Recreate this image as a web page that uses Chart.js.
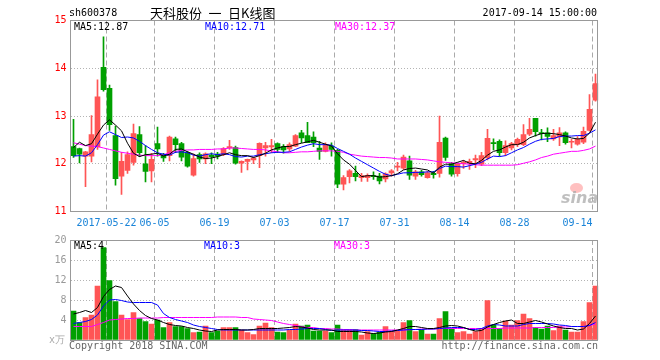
<!DOCTYPE html>
<html><head><meta charset="utf-8">
<script src="https://cdn.jsdelivr.net/npm/chart.js@4.4.0/dist/chart.umd.min.js"></script>
<style>
html,body{margin:0;padding:0;background:#fff;}
#wrap{position:relative;width:660px;height:360px;overflow:hidden;font-family:'DejaVu Sans Mono',monospace;font-size:10px;}
canvas{position:absolute;left:0;top:0;}
.t{position:absolute;white-space:pre;line-height:12px;}
</style></head>
<body><div id="wrap">
<canvas id="c1" width="660" height="360"></canvas>
<canvas id="c2" width="660" height="360"></canvas>
<div class="t" style="left:69px;top:7px;color:#000">sh600378</div>
<div class="t" style="left:150px;top:4px;font-family:'Noto Sans CJK SC';font-size:13px;line-height:18px;color:#000">天科股份&#x2002;一&#x2002;日K线图</div>
<div class="t" style="right:63px;top:7px;color:#000">2017-09-14 15:00:00</div>
<div class="t" style="left:74px;top:21px;color:#000">MA5:12.87</div>
<div class="t" style="left:205px;top:21px;color:#0000ff">MA10:12.71</div>
<div class="t" style="left:335px;top:21px;color:#ff00ff">MA30:12.37</div>
<div class="t" style="left:74px;top:240px;color:#000">MA5:4</div>
<div class="t" style="left:204px;top:240px;color:#0000ff">MA10:3</div>
<div class="t" style="left:334px;top:240px;color:#ff00ff">MA30:3</div>
<div class="t" style="left:49px;top:334px;color:#aaa">x万</div>
<div class="t" style="left:69px;top:340px;color:#666">Copyright 2018 SINA.COM</div>
<div class="t" style="right:62px;top:340px;color:#666">http://finance.sina.com.cn</div>
<div style="position:absolute;left:570px;top:183px;width:13px;height:10px;border-radius:50%;background:rgba(255,140,140,0.55)"></div>
<div class="t" style="left:561px;top:189px;font-family:'DejaVu Sans';font-style:italic;font-weight:bold;font-size:16px;line-height:18px;color:rgba(170,170,170,0.75)">sina</div>
</div>
<script>
const dates = ['2017-05-12','2017-05-15','2017-05-16','2017-05-17','2017-05-18','2017-05-19','2017-05-22','2017-05-23','2017-05-24','2017-05-25','2017-05-26','2017-05-31','2017-06-01','2017-06-02','2017-06-05','2017-06-06','2017-06-07','2017-06-08','2017-06-09','2017-06-12','2017-06-13','2017-06-14','2017-06-15','2017-06-16','2017-06-19','2017-06-20','2017-06-21','2017-06-22','2017-06-23','2017-06-26','2017-06-27','2017-06-28','2017-06-29','2017-06-30','2017-07-03','2017-07-04','2017-07-05','2017-07-06','2017-07-07','2017-07-10','2017-07-11','2017-07-12','2017-07-13','2017-07-14','2017-07-17','2017-07-18','2017-07-19','2017-07-20','2017-07-21','2017-07-24','2017-07-25','2017-07-26','2017-07-27','2017-07-28','2017-07-31','2017-08-01','2017-08-02','2017-08-03','2017-08-04','2017-08-07','2017-08-08','2017-08-09','2017-08-10','2017-08-11','2017-08-14','2017-08-15','2017-08-16','2017-08-17','2017-08-18','2017-08-21','2017-08-22','2017-08-23','2017-08-24','2017-08-25','2017-08-28','2017-08-29','2017-08-30','2017-08-31','2017-09-01','2017-09-04','2017-09-05','2017-09-06','2017-09-07','2017-09-08','2017-09-11','2017-09-12','2017-09-13','2017-09-14'];

const openP  = [12.36,12.32,12.16,12.16,12.35,14.02,13.58,12.59,11.74,11.86,12.03,12.61,12.00,11.85,12.42,12.19,12.17,12.52,12.42,12.23,11.76,12.19,12.10,12.18,12.20,12.19,12.33,12.34,12.01,12.05,12.08,12.17,12.33,12.35,12.42,12.36,12.31,12.37,12.65,12.59,12.56,12.33,12.26,12.37,12.28,11.57,11.73,11.80,11.71,11.71,11.75,11.74,11.68,11.81,11.93,11.91,12.06,11.74,11.83,11.71,11.80,11.80,12.54,12.00,11.79,12.00,12.02,12.08,11.99,12.12,12.44,12.47,12.23,12.33,12.40,12.40,12.62,12.95,12.65,12.65,12.52,12.56,12.65,12.45,12.41,12.45,12.70,13.33];
const highP  = [12.93,12.33,12.26,13.01,13.76,14.66,13.65,12.79,12.24,12.25,12.83,12.78,12.38,12.22,12.77,12.22,12.58,12.56,12.45,12.26,12.20,12.23,12.23,12.23,12.24,12.34,12.49,12.37,12.06,12.10,12.14,12.44,12.45,12.51,12.44,12.40,12.44,12.61,12.70,12.87,12.67,12.47,12.44,12.44,12.30,11.75,11.88,11.95,11.80,11.79,11.83,11.80,11.81,11.88,12.03,12.18,12.16,11.86,11.86,11.84,11.84,13.00,12.56,12.03,12.02,12.07,12.10,12.18,12.24,12.72,12.52,12.50,12.48,12.45,12.54,12.82,12.95,12.95,12.72,12.75,12.72,12.76,12.67,12.51,12.57,12.77,13.45,13.88];
const lowP   = [12.13,12.02,11.52,12.04,12.30,13.52,12.70,11.55,11.36,11.80,11.97,12.15,11.62,11.62,12.16,12.05,12.06,12.23,12.06,11.93,11.74,12.03,12.00,12.00,12.10,12.17,12.30,11.99,11.82,11.87,12.00,11.92,12.16,12.23,12.23,12.22,12.26,12.36,12.44,12.44,12.36,12.09,12.25,12.16,11.50,11.45,11.60,11.64,11.63,11.63,11.67,11.58,11.62,11.74,11.85,11.88,11.67,11.67,11.74,11.70,11.70,11.72,12.07,11.74,11.74,11.90,11.88,11.92,11.96,12.08,12.29,12.16,12.17,12.29,12.36,12.38,12.59,12.58,12.50,12.46,12.49,12.38,12.41,12.33,12.39,12.42,12.68,13.31];
const closeP = [12.17,12.20,12.25,12.61,13.40,13.55,12.82,11.69,12.05,12.19,12.63,12.23,11.84,12.09,12.31,12.12,12.56,12.40,12.14,11.95,12.11,12.10,12.21,12.15,12.16,12.32,12.36,12.01,12.05,12.09,12.12,12.43,12.38,12.38,12.30,12.29,12.40,12.59,12.54,12.44,12.44,12.26,12.40,12.30,11.57,11.71,11.85,11.73,11.75,11.76,11.73,11.64,11.79,11.85,11.95,12.14,11.76,11.83,11.77,11.81,11.77,12.45,12.13,11.78,12.00,12.03,12.05,12.11,12.17,12.53,12.42,12.23,12.38,12.42,12.51,12.61,12.72,12.67,12.63,12.57,12.59,12.65,12.44,12.47,12.51,12.68,13.14,13.68];

const ma5  = [12.34,12.45,12.38,12.42,12.62,12.81,12.92,12.81,12.69,12.43,12.22,12.15,12.19,12.20,12.22,12.16,12.20,12.30,12.31,12.25,12.20,12.14,12.11,12.12,12.15,12.19,12.23,12.19,12.17,12.17,12.13,12.17,12.22,12.29,12.33,12.36,12.36,12.40,12.43,12.46,12.49,12.45,12.41,12.37,12.21,12.08,11.99,11.86,11.73,11.75,11.75,11.72,11.73,11.75,11.79,11.87,11.90,11.91,11.89,11.87,11.80,11.93,11.99,11.99,12.03,12.07,12.01,12.00,12.07,12.18,12.26,12.29,12.35,12.40,12.40,12.45,12.54,12.59,12.63,12.64,12.63,12.61,12.58,12.54,12.52,12.53,12.64,12.87];
const ma10 = [12.16,12.17,12.16,12.23,12.40,12.60,12.67,12.61,12.55,12.56,12.54,12.47,12.38,12.30,12.23,12.20,12.18,12.24,12.25,12.23,12.18,12.16,12.19,12.21,12.19,12.21,12.19,12.15,12.14,12.16,12.16,12.19,12.21,12.23,12.24,12.24,12.25,12.30,12.35,12.39,12.42,12.40,12.40,12.39,12.32,12.26,12.20,12.12,12.05,11.98,11.91,11.84,11.78,11.75,11.78,11.81,11.81,11.82,11.82,11.83,11.83,11.90,11.95,11.94,11.94,11.93,11.96,11.99,12.03,12.10,12.16,12.15,12.17,12.23,12.29,12.34,12.41,12.47,12.51,12.52,12.53,12.57,12.58,12.58,12.59,12.59,12.64,12.71];
const ma30 = [12.44,12.41,12.38,12.37,12.36,12.33,12.30,12.27,12.24,12.22,12.20,12.18,12.17,12.17,12.17,12.19,12.23,12.26,12.28,12.29,12.29,12.30,12.30,12.30,12.31,12.31,12.33,12.33,12.32,12.31,12.30,12.30,12.29,12.27,12.25,12.23,12.23,12.24,12.25,12.25,12.26,12.27,12.27,12.27,12.26,12.24,12.20,12.18,12.16,12.15,12.14,12.13,12.13,12.12,12.10,12.10,12.10,12.10,12.09,12.08,12.06,12.04,12.03,12.02,12.01,12.00,11.99,11.98,11.97,11.97,11.97,11.97,11.97,11.97,11.98,12.01,12.04,12.08,12.13,12.16,12.20,12.22,12.24,12.26,12.26,12.28,12.31,12.37];

const volume = [5.8,3.5,4.5,5.0,10.8,18.5,11.9,7.7,5.0,4.1,5.5,4.3,3.7,3.2,4.0,2.5,3.5,2.7,2.7,2.3,1.5,1.6,2.8,1.5,1.8,2.5,2.5,2.5,2.0,1.5,1.1,2.8,3.4,2.5,1.6,1.5,2.0,3.2,2.8,3.0,1.8,1.8,1.8,1.5,3.0,2.1,2.1,2.1,1.0,1.7,1.3,1.6,2.7,1.8,1.9,3.5,3.9,1.7,2.1,1.2,1.2,4.3,5.7,2.3,1.5,1.7,1.2,1.7,2.3,7.9,3.0,2.3,3.8,3.0,3.9,5.2,4.3,2.5,2.2,2.8,1.9,2.8,2.0,1.6,1.6,3.7,7.5,10.8];
const volMa5  = [5.2,5.5,5.9,5.5,6.5,8.7,10.1,10.8,10.5,8.8,7.2,5.9,4.9,4.3,4.0,3.5,3.1,2.9,2.8,2.5,2.3,2.0,1.8,1.7,2.0,2.1,2.1,2.1,2.0,2.0,2.1,2.3,2.3,2.3,2.3,2.4,2.5,2.7,2.6,2.4,2.1,2.0,2.0,2.0,1.7,1.7,1.7,1.7,1.6,1.4,1.3,1.4,1.6,1.7,2.0,2.3,2.7,2.7,2.5,2.3,2.3,2.5,2.8,2.9,2.8,2.5,2.1,1.8,1.9,2.6,3.1,3.5,3.8,4.0,3.3,3.3,3.6,3.9,3.6,3.2,2.8,2.5,2.3,2.3,2.0,2.2,3.3,4.8];
const volMa10 = [3.3,3.5,3.7,4.1,5.0,6.8,8.0,8.1,7.9,7.6,7.5,7.5,7.5,7.5,7.0,5.3,4.5,4.1,3.8,3.5,3.0,2.7,2.5,2.3,2.1,2.0,2.0,2.0,2.0,2.0,2.0,2.0,2.0,2.0,2.0,2.0,2.1,2.1,2.2,2.3,2.3,2.3,2.1,1.9,2.0,2.0,2.0,2.0,1.9,1.9,1.8,1.7,1.7,1.8,1.9,2.0,2.1,2.1,2.1,2.2,2.2,2.3,2.4,2.5,2.5,2.5,2.1,2.1,2.3,2.8,3.1,3.0,2.8,2.8,2.8,3.1,3.3,3.3,3.3,3.3,3.2,3.0,2.9,2.7,2.7,2.7,2.9,3.5];
const volMa30 = [2.7,2.7,2.7,2.7,3.1,3.5,4.0,4.1,4.2,4.3,4.3,4.4,4.4,4.4,4.4,4.5,4.5,4.5,4.5,4.5,4.5,4.5,4.5,4.5,4.6,4.6,4.6,4.6,4.5,4.5,4.2,4.1,4.0,3.9,3.6,3.3,3.1,2.9,2.7,2.5,2.5,2.3,2.3,2.2,2.2,2.1,2.1,2.0,2.0,2.0,2.0,2.0,2.0,2.0,2.0,2.0,2.05,2.1,2.2,2.2,2.2,2.3,2.3,2.3,2.3,2.3,2.3,2.3,2.3,2.3,2.3,2.3,2.4,2.4,2.4,2.4,2.4,2.5,2.5,2.5,2.5,2.6,2.6,2.7,2.7,2.7,2.9,3.2];

const tickDates = ['2017-05-22','2017-06-05','2017-06-19','2017-07-03','2017-07-17','2017-07-31','2017-08-14','2017-08-28','2017-09-14'];
const tickText  = ['2017-05-22','06-05','06-19','07-03','07-17','07-31','08-14','08-28','09-14'];
const priceTicks = [11, 12, 13, 14, 15];
const volTicks = [0, 4, 8, 12, 16, 20];

const FONT = 'DejaVu Sans Mono';
Chart.defaults.font.family = FONT;
Chart.defaults.font.size = 10;

const RED = '#ff5555', GREEN = '#00a000';
const colors = closeP.map((c, i) => c >= openP[i] ? RED : GREEN);
const tickMap = {};
tickDates.forEach((d, k) => { tickMap[d] = tickText[k]; });
const lastIdx = dates.length - 1;

const framePlugin = {
  id: 'frame',
  afterDraw(chart) {
    const a = chart.chartArea, c = chart.ctx;
    const L = Math.floor(a.left), T = Math.floor(a.top), R = Math.floor(a.right) - 1, B = Math.floor(a.bottom);
    c.save();
    c.strokeStyle = '#999';
    c.lineWidth = 1;
    c.setLineDash([]);
    c.strokeRect(L + 0.5, T + 0.5, R - L, B - T);
    c.restore();
  }
};

function xAxis(showLabels, h) {
  return {
    type: 'category',
    offset: true,
    grid: {
      offset: true, drawTicks: false, lineWidth: 1,
      color: ctx => (ctx.index !== undefined && tickMap[dates[ctx.index]] !== undefined) ? '#aaaaaa' : 'rgba(0,0,0,0)'
    },
    border: { display: false, dash: [5, 3] },
    ticks: {
      display: showLabels, autoSkip: false, maxRotation: 0, minRotation: 0,
      padding: 6, labelOffset: -3, color: '#1a84d8',
      font: { family: FONT, size: 10 },
      callback: (v, i) => {
        const t = tickMap[dates[i]];
        if (t === undefined) return '';
        return i === lastIdx ? t + '     ' : t;
      }
    },
    afterFit: s => { s.height = h; }
  };
}

function yAxis(ticksArr, color, hideEnds) {
  const min = ticksArr[0], max = ticksArr[ticksArr.length - 1];
  return {
    min: min, max: max,
    afterBuildTicks: s => { s.ticks = ticksArr.map(v => ({ value: v })); },
    grid: {
      drawTicks: false, lineWidth: 1,
      color: ctx => (ctx.tick && ctx.tick.value > min && ctx.tick.value < max) ? '#b4b4b4' : 'rgba(0,0,0,0)'
    },
    border: { display: false, dash: [1, 2] },
    ticks: {
      color: color, padding: 4, font: { family: FONT, size: 10 },
      callback: v => (hideEnds && v === min) ? '' : String(v)
    },
    afterFit: s => { s.width = 70.5; }
  };
}

const lineDs = (data, color) => ({
  type: 'line', data: data, borderColor: color, borderWidth: 1,
  pointRadius: 0, tension: 0, fill: false, order: 0
});

new Chart(document.getElementById('c1'), {
  type: 'bar',
  data: {
    labels: dates,
    datasets: [
      { data: lowP.map((l, i) => [l, highP[i]]), backgroundColor: colors, barThickness: 1, grouped: false, order: 2, borderWidth: 0 },
      { data: openP.map((o, i) => [o, closeP[i]]), backgroundColor: colors, barThickness: 5, grouped: false, order: 1, borderWidth: 0, minBarLength: 1 },
      lineDs(ma5, '#000000'),
      lineDs(ma10, '#0000ff'),
      lineDs(ma30, '#ff00ff')
    ]
  },
  options: {
    responsive: false, animation: false, devicePixelRatio: 1,
    layout: { padding: { left: 0, right: 61.5, top: 20.5, bottom: 0 } },
    plugins: { legend: { display: false }, tooltip: { enabled: false } },
    scales: { x: xAxis(true, 148.5), y: yAxis(priceTicks, '#ff0000', false) }
  },
  plugins: [framePlugin]
});

new Chart(document.getElementById('c2'), {
  type: 'bar',
  data: {
    labels: dates,
    datasets: [
      { data: volume, backgroundColor: colors, barThickness: 5, grouped: false, order: 1, borderWidth: 0 },
      lineDs(volMa5, '#000000'),
      lineDs(volMa10, '#0000ff'),
      lineDs(volMa30, '#ff00ff')
    ]
  },
  options: {
    responsive: false, animation: false, devicePixelRatio: 1,
    layout: { padding: { left: 0, right: 61.5, top: 240, bottom: 0 } },
    plugins: { legend: { display: false }, tooltip: { enabled: false } },
    scales: { x: xAxis(false, 20), y: yAxis(volTicks, '#999999', true) }
  },
  plugins: [framePlugin]
});
</script>
</body></html>
